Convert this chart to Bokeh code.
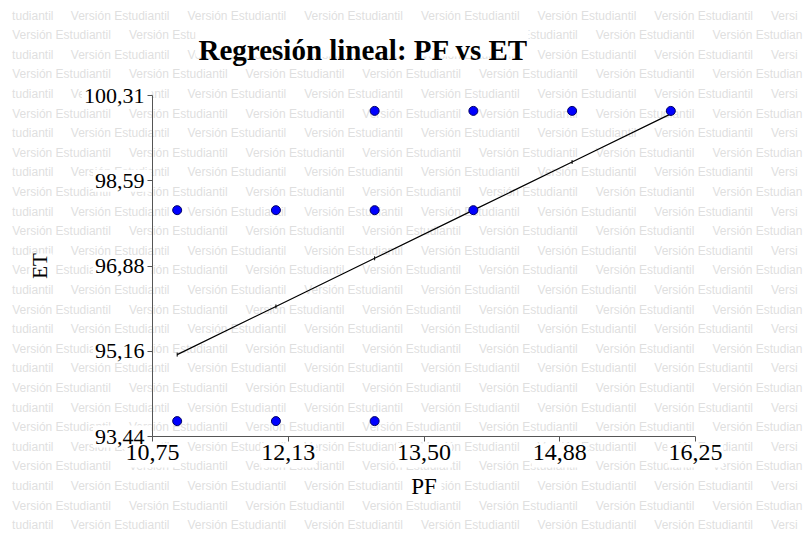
import math
from bokeh.plotting import figure
from bokeh.models import Range1d, FixedTicker, GridBox
from bokeh.core.properties import value
from bokeh.embed import file_html
from bokeh.resources import INLINE

# ---- data ----
pf = [11, 11, 12, 12, 13, 13, 13, 14, 14, 15, 16]
et = [98.0, 93.75, 98.0, 93.75, 100.0, 98.0, 93.75, 100.0, 98.0, 100.0, 100.0]
fit_pf = [11, 12, 13, 14, 15, 16]
fit_et = [95.09, 96.06, 97.03, 98.00, 98.97, 99.94]
x_ticks = [10.75, 12.125, 13.5, 14.875, 16.25]
x_tick_labels = ["10,75", "12,13", "13,50", "14,88", "16,25"]
y_ticks = [93.44, 95.1575, 96.875, 98.5925, 100.31]
y_tick_labels = ["93,44", "95,16", "96,88", "98,59", "100,31"]
title_text = "Regresión lineal: PF vs ET"
watermark = "Versión Estudiantil"

W, H = 805, 538
FL, FR, FT, FB = 152, 695, 95, 436


def sx(v):
    return FL + (v - x_ticks[0]) / (x_ticks[-1] - x_ticks[0]) * (FR - FL)


def sy(v):
    return FB - (v - y_ticks[0]) / (y_ticks[-1] - y_ticks[0]) * (FB - FT)


# ================= background page: watermark, label boxes, title =================
bg = figure(width=W, height=H, output_backend="svg", toolbar_location=None,
            x_range=Range1d(0, W), y_range=Range1d(H, 0),
            x_axis_type=None, y_axis_type=None, min_border=0)
bg.frame_align = False
bg.outline_line_color = None
bg.xgrid.visible = False
bg.ygrid.visible = False
bg.background_fill_color = "white"
bg.border_fill_color = "white"

WM_SIZE = 12
cw = {"V": .667, "e": .556, "r": .333, "s": .5, "i": .222, "ó": .556, "n": .556,
      " ": .278, "E": .667, "t": .278, "u": .556, "d": .556, "a": .556, "l": .222}
adv = [cw.get(c, .55) * WM_SIZE for c in watermark]
period, row_h = 116.7, 19.6
wx, wy, wt = [], [], []
for r in range(27):
    yc = 15 + r * row_h
    x0 = 70.3 if r % 2 == 0 else 11.7
    x = x0 - period
    while x < W:
        start, pos = 0, x
        while start < len(watermark) and pos < 8:
            pos += adv[start]
            start += 1
        end, right = start, pos
        while end < len(watermark) and right + adv[end] <= W - 1:
            right += adv[end]
            end += 1
        seg = watermark[start:end]
        if seg.startswith(" "):
            pos += adv[start]
        if seg.strip():
            wx.append(pos)
            wy.append(yc)
            wt.append(seg.strip())
        x += period
bg.text(wx, wy, text=wt, text_font=value("Liberation Sans"), text_font_size="12px",
        text_color="#dfdfdf", text_align="left", text_baseline="middle")

# white boxes behind tick labels and axis labels
ql, qr, qt, qb = [], [], [], []
for v, lab in zip(y_ticks, y_tick_labels):
    w = sum(5.5 if c == "," else 11 for c in lab)
    ql.append(FL - 8 - w - 2); qr.append(FL - 1); qt.append(sy(v) - 11); qb.append(sy(v) + 11)
for v, lab in zip(x_ticks, x_tick_labels):
    ql.append(sx(v) - 28); qr.append(sx(v) + 28); qt.append(FB + 7); qb.append(FB + 31)
ql += [29, 409]; qr += [52, 441]; qt += [253, 476]; qb += [280, 499]
ql.append(195); qr.append(528); qt.append(24); qb.append(56)
bg.quad(left=ql, right=qr, top=qt, bottom=qb, fill_color="white", line_color=None)

bg.text([198], [49], text=[title_text], text_font=value("Liberation Serif"),
        text_font_size="29px", text_font_style="bold", text_color="black",
        text_align="left", text_baseline="alphabetic")

# ================= chart (transparent, on top) =================
p = figure(width=W, height=H, output_backend="svg", toolbar_location=None,
           x_range=Range1d(x_ticks[0], x_ticks[-1]),
           y_range=Range1d(y_ticks[0], y_ticks[-1]),
           min_border_left=FL, min_border_right=W - FR,
           min_border_top=FT, min_border_bottom=H - FB)
p.frame_align = False
p.outline_line_color = None
p.background_fill_color = None
p.border_fill_color = None
p.xgrid.visible = False
p.ygrid.visible = False

p.line(fit_pf, fit_et, line_color="black", line_width=1.2)
p.scatter(fit_pf, fit_et, marker="dash", angle=math.pi / 2, size=4,
          line_color="black", line_width=1)
p.scatter(pf, et, size=9, fill_color="#0000ff", line_color="#000066", line_width=1)

for ax in (p.xaxis[0], p.yaxis[0]):
    ax.axis_line_color = "#555555"
    ax.major_tick_line_color = "#555555"
    ax.minor_tick_line_color = None
    ax.major_tick_in = 0
    ax.major_tick_out = 5
    ax.major_label_text_font = "Liberation Serif"
    ax.major_label_text_color = "black"
    ax.axis_label_text_font = "Liberation Serif"
    ax.axis_label_text_font_style = "normal"
    ax.axis_label_text_color = "black"
    ax.major_label_standoff = 3

p.xaxis.ticker = FixedTicker(ticks=x_ticks)
p.xaxis.major_label_overrides = dict(zip(x_ticks, x_tick_labels))
p.yaxis.ticker = FixedTicker(ticks=y_ticks)
p.yaxis.major_label_overrides = dict(zip(y_ticks, y_tick_labels))
p.xaxis.major_label_text_font_size = "24px"
p.yaxis.major_label_text_font_size = "22px"
p.xaxis.axis_label = "PF"
p.yaxis.axis_label = "ET"
p.xaxis.axis_label_text_font_size = "23px"
p.yaxis.axis_label_text_font_size = "21px"
p.xaxis.axis_label_standoff = 11
p.yaxis.axis_label_standoff = 29

page = GridBox(children=[(bg, 0, 0), (p, 0, 0)], width=W, height=H)

open("out.html", "w").write(file_html(page, INLINE))
